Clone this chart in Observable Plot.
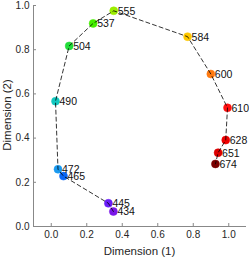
<!DOCTYPE html>
<html><head><meta charset="utf-8">
<script src="https://cdn.jsdelivr.net/npm/d3@7"></script>
<script src="https://cdn.jsdelivr.net/npm/@observablehq/plot@0.6"></script>
<style>body{margin:0;background:#fff;} svg{font-family:"Liberation Sans",Arial,sans-serif;}</style>
</head><body><div id="chart"></div>
<script>
const wavelengths = [434, 445, 465, 472, 490, 504, 537, 555, 584, 600, 610, 628, 651, 674];
const dim1 = [0.350, 0.322, 0.069, 0.038, 0.024, 0.101, 0.236, 0.352, 0.768, 0.899, 0.993, 0.983, 0.940, 0.925];
const dim2 = [0.068, 0.105, 0.228, 0.259, 0.567, 0.817, 0.919, 0.976, 0.859, 0.690, 0.537, 0.391, 0.334, 0.283];
const colors = ["#7a16e8", "#6a1cf8", "#0a66f5", "#1a9af0", "#12c8c0", "#22dd3a", "#44ee00", "#9cee00", "#ffc800", "#ff7a10", "#ff1010", "#ee0000", "#dd0000", "#7a0000"];
const xTicks = [0, 0.2, 0.4, 0.6, 0.8, 1];
const yTicks = [0, 0.2, 0.4, 0.6, 0.8, 1];

const data = wavelengths.map((w, i) => ({w, x: dim1[i], y: dim2[i], c: colors[i]}));

const chart = Plot.plot({
  width: 249, height: 258,
  marginLeft: 33, marginRight: 3, marginTop: 5, marginBottom: 32,
  style: {fontFamily: "Liberation Sans, Arial, sans-serif", fontSize: "10px", color: "#262626", background: "#fff"},
  x: {domain: [-0.1, 1.1]},
  y: {domain: [0, 1]},
  marks: [
    Plot.axisX({ticks: xTicks, tickSize: -3, stroke: "#888", tickPadding: 7, fontSize: 10, fill: "#262626", label: null}),
    Plot.axisY({ticks: yTicks, tickSize: -3, stroke: "#888", tickPadding: 7, fontSize: 10, fill: "#262626", label: null}),
    Plot.ruleY([0], {stroke: "#888"}),
    Plot.ruleX([-0.1], {stroke: "#888"}),
    Plot.dot(data, {x: "x", y: "y", r: 4, fill: "c", stroke: "c", strokeWidth: 0.5}),
    Plot.line(data, {x: "x", y: "y", stroke: "black", strokeWidth: 0.8, strokeDasharray: "4,3"}),
    Plot.text(data, {x: "x", y: "y", text: "w", textAnchor: "start", dx: 4, dy: 0.5, fontSize: 10.5, fill: "#111"})
  ]
});
const svg = d3.select(chart);
svg.append("text").attr("x", 139.5).attr("y", 252).attr("text-anchor", "middle").attr("dominant-baseline", "middle")
  .attr("font-size", 11.5).attr("fill", "#262626").text("Dimension (1)");
svg.append("text").attr("transform", "translate(8,115) rotate(-90)").attr("text-anchor", "middle").attr("dominant-baseline", "middle")
  .attr("font-size", 11.5).attr("fill", "#262626").text("Dimension (2)");
document.getElementById("chart").appendChild(chart);
</script></body></html>
